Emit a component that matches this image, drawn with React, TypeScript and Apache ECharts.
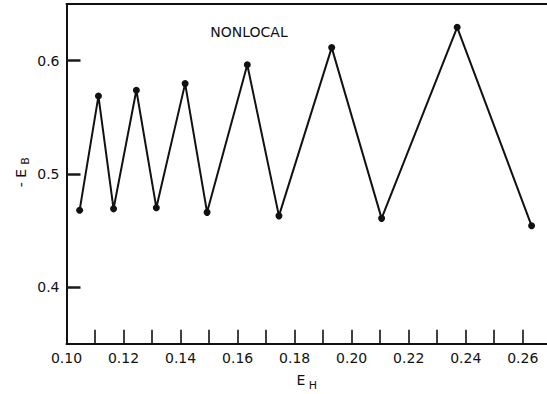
import React, { useEffect, useRef } from "react";
import * as echarts from "echarts";

const eH = [0.1046, 0.1112, 0.1165, 0.1245, 0.1315, 0.1416, 0.1493, 0.1634, 0.1745, 0.193, 0.2105, 0.237, 0.2631];
const negEB = [0.4678, 0.5687, 0.4691, 0.5738, 0.4701, 0.5797, 0.466, 0.5963, 0.4629, 0.6115, 0.4607, 0.6294, 0.4541];
const xTickValues = [0.11, 0.12, 0.13, 0.14, 0.15, 0.16, 0.17, 0.18, 0.19, 0.2, 0.21, 0.22, 0.23, 0.24, 0.25, 0.26];
const xLabelValues = [0.1, 0.12, 0.14, 0.16, 0.18, 0.2, 0.22, 0.24, 0.26];
const yTickValues = [0.4, 0.5, 0.6];

const X_MIN = 0.1;
const X_MAX = 0.2685;
const Y_MIN = 0.35;
const Y_MAX = 0.65;
const FONT = "DejaVu Sans";
const INK = "#111";

export default function App() {
  const ref = useRef<HTMLDivElement>(null);
  useEffect(() => {
    if (!ref.current) return;
    const chart = echarts.init(ref.current, null, { renderer: "svg" });
    const points = eH.map((x, i) => [x, negEB[i]]);
    chart.setOption({
      animation: false,
      backgroundColor: "#fff",
      grid: { left: 66.5, right: 0, top: 4, bottom: 50.3, containLabel: false },
      xAxis: [
        {
          type: "value",
          min: X_MIN,
          max: X_MAX,
          axisLine: { show: true, onZero: false, lineStyle: { color: INK, width: 2 } },
          axisTick: {
            show: true,
            inside: true,
            length: 14,
            customValues: xTickValues,
            lineStyle: { color: INK, width: 1.6 },
          },
          axisLabel: {
            customValues: xLabelValues,
            formatter: (v: number) => v.toFixed(2),
            color: INK,
            fontFamily: FONT,
            fontSize: 14,
            margin: 7,
          },
          splitLine: { show: false },
        },
        {
          type: "value",
          position: "top",
          min: X_MIN,
          max: X_MAX,
          axisLine: { show: true, onZero: false, lineStyle: { color: INK, width: 2 } },
          axisTick: { show: false },
          axisLabel: { show: false },
          splitLine: { show: false },
        },
      ],
      yAxis: {
        type: "value",
        min: Y_MIN,
        max: Y_MAX,
        axisLine: { show: true, onZero: false, lineStyle: { color: INK, width: 2 } },
        axisTick: {
          show: true,
          inside: true,
          length: 14,
          customValues: yTickValues,
          lineStyle: { color: "#1a1a1a", width: 2.5 },
        },
        axisLabel: {
          customValues: yTickValues,
          formatter: (v: number) => v.toFixed(1),
          color: INK,
          fontFamily: FONT,
          fontSize: 14,
          margin: 7,
        },
        splitLine: { show: false },
      },
      series: [
        {
          type: "line",
          data: points,
          xAxisIndex: 0,
          symbol: "circle",
          symbolSize: 7,
          lineStyle: { color: INK, width: 2 },
          itemStyle: { color: INK },
        },
      ],
      graphic: [
        {
          type: "text",
          x: 249,
          y: 32,
          style: {
            text: "NONLOCAL",
            font: `14px "${FONT}"`,
            fill: INK,
            align: "center",
            verticalAlign: "middle",
          },
        },
        {
          type: "text",
          x: 301,
          y: 380,
          style: { text: "E", font: `14px "${FONT}"`, fill: INK, align: "center", verticalAlign: "middle" },
        },
        {
          type: "text",
          x: 313,
          y: 385,
          style: { text: "H", font: `11px "${FONT}"`, fill: INK, align: "center", verticalAlign: "middle" },
        },
        {
          type: "text",
          x: 21,
          y: 178,
          rotation: Math.PI / 2,
          style: { text: "- E", font: `14px "${FONT}"`, fill: INK, align: "center", verticalAlign: "middle" },
        },
        {
          type: "text",
          x: 25,
          y: 161,
          rotation: Math.PI / 2,
          style: { text: "B", font: `11px "${FONT}"`, fill: INK, align: "center", verticalAlign: "middle" },
        },
      ],
    });
    return () => chart.dispose();
  }, []);
  return (
    <div
      ref={ref}
      style={{ position: "fixed", left: 0, top: 0, width: 547, height: 394, background: "#fff" }}
    />
  );
}
